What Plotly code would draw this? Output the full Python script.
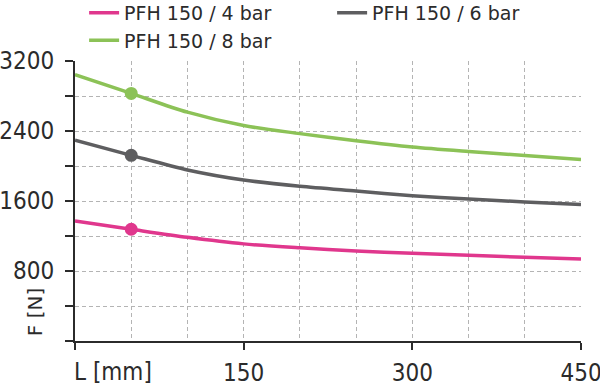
import plotly.graph_objects as go

L_mm = [0, 50, 100, 150, 200, 250, 300, 350, 400, 450]
F_4bar = [1372, 1277, 1185, 1110, 1065, 1029, 1002, 979, 958, 937]
F_6bar = [2294, 2122, 1955, 1840, 1768, 1714, 1661, 1623, 1589, 1559]
F_8bar = [3045, 2830, 2615, 2462, 2370, 2288, 2217, 2166, 2120, 2073]
marker_L = [50]
names = ["PFH 150 / 4 bar", "PFH 150 / 6 bar", "PFH 150 / 8 bar"]
colors = ["#E0378D", "#5E5E60", "#8CC257"]
y_ticks = [0, 400, 800, 1200, 1600, 2000, 2400, 2800, 3200]
y_ticktext = ["", "", "800", "", "1600", "", "2400", "", "3200"]
x_ticks = [0, 150, 300, 450]
x_ticktext = ["", "150", "300", "450"]

FONT = "DejaVu Sans Condensed, DejaVu Sans, sans-serif"
FONT_W = "DejaVu Sans, sans-serif"
TXT = "#2b2b2b"

fig = go.Figure()
for name, ys, col in zip(names, [F_4bar, F_6bar, F_8bar], colors):
    fig.add_trace(go.Scatter(x=L_mm, y=ys, mode="lines", name=name,
                             line=dict(color=col, width=3.5, shape="spline", smoothing=0.8)))
for name, ys, col in zip(names, [F_4bar, F_6bar, F_8bar], colors):
    fig.add_trace(go.Scatter(x=marker_L, y=[ys[L_mm.index(50)]], mode="markers",
                             marker=dict(color=col, size=13), showlegend=False, hoverinfo="skip"))

grid = dict(gridcolor="#b4b4b4", gridwidth=1, griddash="4px,3px")
fig.update_layout(
    width=600, height=386,
    margin=dict(l=75, r=19, t=61, b=45, autoexpand=False),
    paper_bgcolor="white", plot_bgcolor="white",
    font=dict(family=FONT, color=TXT, size=24),
    showlegend=True,
    legend=dict(orientation="h", x=0.018, xanchor="left",
                y=1.24, yanchor="top",
                font=dict(size=19, family=FONT_W, color=TXT),
                entrywidth=203, entrywidthmode="pixels",
                bgcolor="rgba(0,0,0,0)", traceorder="normal"),
    xaxis=dict(range=[0, 450], tickvals=x_ticks, ticktext=x_ticktext,
               showline=True, linecolor="#2b2b2b", linewidth=2,
               ticks="outside", ticklen=7, tickwidth=2, tickcolor="#2b2b2b",
               showgrid=True, zeroline=False, automargin=False, **grid,
               minor=dict(dtick=50, showgrid=True, ticks="", **grid),
               ticklabelstandoff=2, ticklabeloverflow="allow",
               tickfont=dict(size=24, family=FONT, color=TXT)),
    yaxis=dict(range=[0, 3200], tickvals=y_ticks, ticktext=y_ticktext,
               showline=True, linecolor="#2b2b2b", linewidth=2,
               ticks="outside", ticklen=8, tickwidth=2, tickcolor="#2b2b2b",
               showgrid=True, zeroline=False, automargin=False, **grid,
               ticklabelstandoff=6, ticklabeloverflow="allow",
               tickfont=dict(size=24, family=FONT, color=TXT)),
    annotations=[
        dict(text="L [mm]", xref="paper", yref="paper", x=-0.006, y=-0.052,
             xanchor="left", yanchor="top", showarrow=False,
             font=dict(size=24, family=FONT, color=TXT)),
        dict(text="F [N]", xref="paper", yref="paper", x=-0.079, y=0.01,
             xanchor="center", yanchor="bottom", showarrow=False, textangle=-90,
             font=dict(size=20, family=FONT_W, color=TXT)),
    ],
)
fig.write_html("out.html", config={"displayModeBar": False},
               post_script="document.body.style.margin='0';document.body.style.overflow='hidden';")
